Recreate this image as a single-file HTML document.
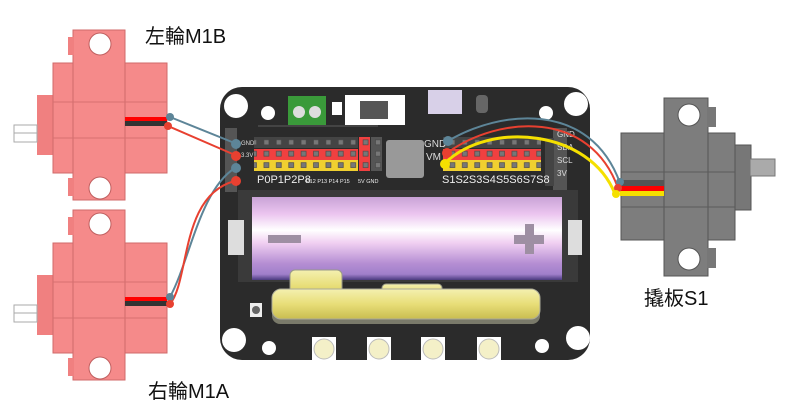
<html><body style="margin:0;background:#fff">
<svg width="796" height="413" viewBox="0 0 796 413" xmlns="http://www.w3.org/2000/svg" style="display:block">
<defs>
<linearGradient id="bat" x1="0" y1="0" x2="0" y2="1">
<stop offset="0" stop-color="#c9a3d6"/><stop offset="0.2" stop-color="#ebc4ef"/><stop offset="0.4" stop-color="#ffffff"/><stop offset="0.55" stop-color="#f1d0f2"/><stop offset="0.8" stop-color="#b58ed3"/><stop offset="0.93" stop-color="#a07fcb"/><stop offset="1" stop-color="#4a3a80"/>
</linearGradient>
<linearGradient id="gold" x1="0" y1="0" x2="0" y2="1">
<stop offset="0" stop-color="#f4f0b0"/><stop offset="0.5" stop-color="#e8de78"/><stop offset="1" stop-color="#c9bd50"/>
</linearGradient>
<pattern id="pins" x="0" y="0" width="12.4" height="11.4" patternUnits="userSpaceOnUse">
<rect x="3.5" y="3" width="5" height="5" fill="#777" stroke="#444" stroke-width="0.6"/>
</pattern>
<g id="pm">
<rect x="37" y="95" width="18" height="60" fill="#f08080"/>
<rect x="14" y="125" width="23" height="17" fill="#fff" stroke="#aaa"/>
<line x1="14" y1="133" x2="37" y2="133" stroke="#aaa"/>
<rect x="53" y="63" width="114" height="110" fill="#f58a8a" stroke="#d06a6a"/>
<rect x="73" y="30" width="52" height="170" fill="#f58a8a" stroke="#d06a6a"/>
<rect x="68" y="37" width="6" height="18" fill="#f08080"/><rect x="68" y="178" width="6" height="18" fill="#f08080"/>
<line x1="53" y1="102" x2="167" y2="102" stroke="#d67070"/><line x1="53" y1="138" x2="167" y2="138" stroke="#d67070"/>
<circle cx="100" cy="44" r="11" fill="#fff" stroke="#c06060"/><circle cx="100" cy="188" r="11" fill="#fff" stroke="#c06060"/>
<rect x="125" y="117" width="42" height="4" fill="#f00"/><rect x="125" y="121" width="42" height="5" fill="#333"/>
</g>
</defs>
<use href="#pm"/>
<use href="#pm" transform="translate(0,180)"/>

<rect x="735" y="145" width="16" height="65" fill="#777" stroke="#555"/>
<rect x="750" y="159" width="25" height="17" fill="#aaa" stroke="#777"/>
<rect x="621" y="133" width="114" height="107" fill="#7d7d7d" stroke="#555"/>
<rect x="664" y="98" width="44" height="178" fill="#7d7d7d" stroke="#555"/>
<rect x="707" y="107" width="9" height="20" fill="#777"/><rect x="707" y="248" width="9" height="20" fill="#777"/>
<line x1="621" y1="172" x2="735" y2="172" stroke="#5a5a5a"/><line x1="621" y1="207" x2="735" y2="207" stroke="#5a5a5a"/>
<circle cx="689" cy="115" r="11" fill="#fff" stroke="#555"/><circle cx="689" cy="259" r="11" fill="#fff" stroke="#555"/>
<rect x="620" y="180" width="44" height="6" fill="#555"/><rect x="620" y="186" width="44" height="5" fill="#f00"/><rect x="620" y="191" width="44" height="5" fill="#f5e000"/>

<rect x="220" y="87" width="370" height="273" rx="22" fill="#2b2b2b"/>
<circle cx="236" cy="106" r="12" fill="#fff"/><circle cx="576" cy="104" r="12" fill="#fff"/>
<circle cx="234" cy="340" r="12" fill="#fff"/><circle cx="578" cy="338" r="12" fill="#fff"/>
<circle cx="268" cy="113" r="7" fill="#fff"/><circle cx="546" cy="113" r="7" fill="#fff"/>
<circle cx="269" cy="348" r="7" fill="#fff"/><circle cx="542" cy="346" r="7" fill="#fff"/>
<rect x="288" y="96" width="38" height="30" fill="#3a9a3a"/><circle cx="299" cy="112" r="6" fill="#ddd"/><circle cx="315" cy="112" r="6" fill="#ddd"/>
<rect x="332" y="102" width="10" height="13" fill="#fff"/>
<rect x="345" y="95" width="60" height="30" fill="#fff"/><rect x="360" y="101" width="28" height="18" fill="#555"/>
<rect x="428" y="90" width="34" height="24" fill="#d8d0e8"/>
<rect x="476" y="95" width="12" height="18" fill="#666" rx="4"/>
<rect x="258" y="125" width="120" height="2" fill="#444"/>
<rect x="386" y="140" width="38" height="38" rx="3" fill="#999"/>
<rect x="225" y="128" width="12" height="64" fill="#555"/>
<g font-family="Liberation Sans" font-size="6" fill="#ddd">
<text x="241" y="145">GND</text><text x="241" y="157">3.3V</text>
</g>
<g>
<rect x="254" y="137" width="104" height="11" fill="#444"/>
<rect x="254" y="149" width="104" height="11" fill="#f04040"/>
<rect x="254" y="160" width="104" height="11" fill="#f0d030"/>
<rect x="359" y="137" width="11" height="34" fill="#f04040"/>
<rect x="371" y="137" width="11" height="34" fill="#555"/>
<rect x="443" y="137" width="98" height="11" fill="#444"/>
<rect x="443" y="149" width="98" height="11" fill="#f04040"/>
<rect x="443" y="160" width="98" height="11" fill="#f0d030"/>
<rect x="254" y="137" width="104" height="34" fill="url(#pins)"/>
<rect x="359" y="137" width="23" height="34" fill="url(#pins)"/>
<rect x="443" y="137" width="98" height="34" fill="url(#pins)"/>
<rect x="553" y="128" width="14" height="68" fill="#555"/>
<rect x="545" y="138" width="9" height="48" fill="#444"/>
</g>
<g font-family="Liberation Sans" font-size="10" fill="#eee">
<text x="257" y="183" font-size="11">P0P1P2P8</text>
<text x="306" y="183" font-size="5.5">P12 P13 P14 P15</text>
<text x="358" y="183" font-size="5.5">5V GND</text>
<text x="424" y="147" fill="#ddd">GND</text>
<text x="426" y="160" fill="#ddd">VM</text>
<text x="442" y="183" font-size="11">S1S2S3S4S5S6S7S8</text>
<text x="557" y="137" font-size="8" fill="#ddd">GND</text>
<text x="557" y="150" font-size="8" fill="#ddd">SDA</text>
<text x="557" y="163" font-size="8" fill="#ddd">SCL</text>
<text x="557" y="176" font-size="8" fill="#ddd">3V</text>
</g>
<rect x="238" y="190" width="340" height="92" fill="#3a3a3a"/>
<rect x="228" y="220" width="16" height="35" fill="#ddd"/><rect x="568" y="220" width="14" height="35" fill="#ddd"/>
<rect x="252" y="197" width="310" height="83" fill="url(#bat)"/>
<rect x="268" y="235" width="33" height="8" fill="#9e8fa3"/>
<rect x="514" y="235" width="30" height="9" fill="#9e8fa3"/><rect x="525" y="224" width="9" height="30" fill="#9e8fa3"/>
<rect x="272" y="290" width="268" height="34" rx="8" fill="#7a7a6a"/>
<rect x="290" y="270" width="52" height="32" rx="5" fill="url(#gold)" stroke="#998"/>
<rect x="382" y="284" width="60" height="16" rx="4" fill="url(#gold)" stroke="#998"/>
<rect x="272" y="289" width="268" height="30" rx="9" fill="url(#gold)" stroke="#aa9"/>
<rect x="250" y="303" width="12" height="14" fill="#eee"/><circle cx="256" cy="310" r="4" fill="#666"/>
<g fill="#fff"><rect x="312" y="337" width="24" height="24"/><rect x="367" y="337" width="24" height="24"/><rect x="421" y="337" width="24" height="24"/><rect x="477" y="337" width="24" height="24"/></g>
<g fill="#f4f0c8" stroke="#bbb"><circle cx="324" cy="349" r="10"/><circle cx="379" cy="349" r="10"/><circle cx="433" cy="349" r="10"/><circle cx="489" cy="349" r="10"/></g>

<g fill="none" stroke-width="2">
<path d="M237 144 L170 117" stroke="#5d8598"/>
<path d="M235 155 L168 126" stroke="#e84030"/>
<path d="M235 168 C200 190 190 260 170 297" stroke="#5d8598"/>
<path d="M235 181 C180 195 190 280 170 304" stroke="#e84030"/>
<path d="M448 141 C500 110 590 100 620 183" stroke="#5d8598"/>
<path d="M447 153 C500 115 590 110 618 188" stroke="#e84030"/>
<path d="M445 163 C490 120 590 130 615 194" stroke="#f5e000" stroke-width="3"/>
</g>
<g>
<circle cx="170" cy="117" r="4" fill="#5d8598"/><circle cx="168" cy="126" r="4" fill="#e84030"/>
<circle cx="170" cy="297" r="4" fill="#5d8598"/><circle cx="170" cy="304" r="4" fill="#e84030"/>
<circle cx="236" cy="144" r="5" fill="#5d8598"/><circle cx="236" cy="156" r="5" fill="#e84030"/>
<circle cx="236" cy="168" r="5" fill="#5d8598"/><circle cx="236" cy="181" r="5" fill="#e84030"/>
<circle cx="448" cy="141" r="5" fill="#5d8598"/><circle cx="447" cy="153" r="5" fill="#e84030"/><circle cx="445" cy="164" r="5" fill="#f5e000"/>
<circle cx="620" cy="182" r="4" fill="#5d8598"/><circle cx="618" cy="188" r="4" fill="#e84030"/><circle cx="616" cy="194" r="4" fill="#f5e000"/>
</g>
<g font-family="Liberation Sans, 'Noto Sans CJK TC', sans-serif" font-size="20" fill="#111">
<text x="145" y="43">左輪M1B</text>
<text x="148" y="398">右輪M1A</text>
<text x="644" y="305">撬板S1</text>
</g>
</svg>
</body></html>
